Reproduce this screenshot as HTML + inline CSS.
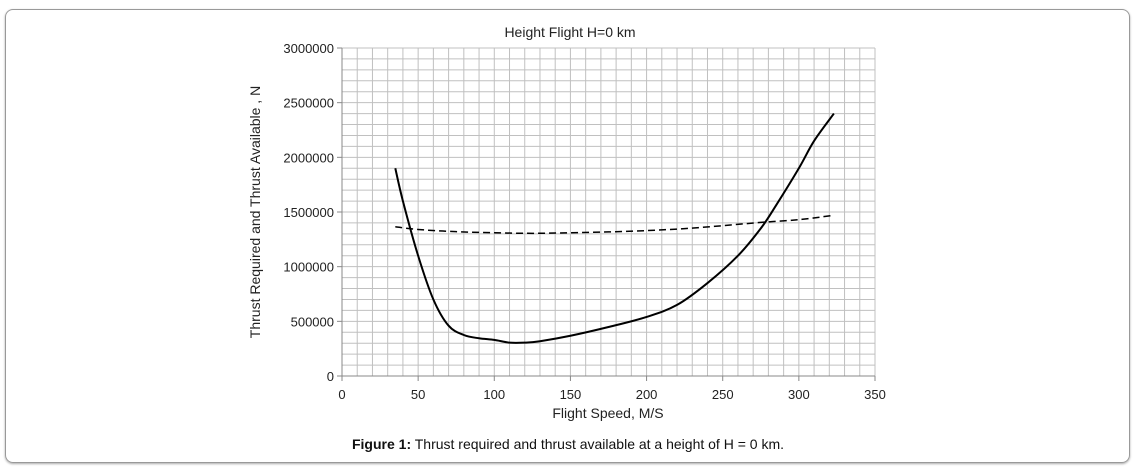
<!DOCTYPE html>
<html><head><meta charset="utf-8"><style>
body{margin:0;background:#fff;width:1136px;height:470px;overflow:hidden;font-family:"Liberation Sans",sans-serif}
#frame{position:absolute;left:5px;top:9px;width:1123px;height:452px;border:1px solid #999;border-radius:8px;box-shadow:0 1px 2px #aaa}
#cap{position:absolute;left:0;width:1136px;top:436px;text-align:center;font-size:14px;color:#111}
</style></head><body>
<div id="frame"></div>
<svg id="chart" width="1136" height="470" style="position:absolute;left:0;top:0"></svg>
<div id="cap"><b>Figure 1:</b> Thrust required and thrust available at a height of H = 0 km.</div>
<script>
const xTicks=[0,50,100,150,200,250,300,350];
const yTicks=[0,500000,1000000,1500000,2000000,2500000,3000000];
const reqX=[35,40,50,60,70,80,90,100,110,120,130,150,175,200,220,240,260,275,285,300,310,323];
const reqY=[1900000,1600000,1100000,700000,460000,375000,345000,330000,305000,305000,318000,368000,448000,540000,650000,850000,1100000,1350000,1560000,1900000,2150000,2400000];
const avX=[35,50,75,100,125,150,175,200,225,250,275,300,323];
const avY=[1365000,1340000,1320000,1310000,1305000,1310000,1318000,1330000,1348000,1375000,1405000,1430000,1470000];
const NS="http://www.w3.org/2000/svg";
const svg=document.getElementById('chart');
const X0=342,X1=875,Y0=376,Y1=48;
const sx=v=>X0+(v/350)*(X1-X0);
const sy=v=>Y0-(v/3000000)*(Y0-Y1);
function mk(t,a,txt){const e=document.createElementNS(NS,t);for(const k in a)e.setAttribute(k,a[k]);if(txt!==undefined)e.textContent=txt;svg.appendChild(e);return e;}
for(let v=10;v<=350;v+=10){const l=mk('line',{x1:sx(v),x2:sx(v),y1:Y1,y2:Y0,stroke:'#c0c0c0','stroke-width':1});

}
for(let v=100000;v<=3000000;v+=100000){const l=mk('line',{x1:X0,x2:X1,y1:sy(v),y2:sy(v),stroke:'#c0c0c0','stroke-width':1});

}
mk('line',{x1:X0,x2:X0,y1:Y1,y2:Y0,stroke:'#888'});
mk('line',{x1:X0,x2:X1,y1:Y0,y2:Y0,stroke:'#888'});
xTicks.forEach(v=>{mk('line',{x1:sx(v),x2:sx(v),y1:Y0,y2:Y0+5,stroke:'#888'});
const t=mk('text',{x:sx(v),y:Y0+23,'text-anchor':'middle','font-size':13,fill:'#222'},v);

});
yTicks.forEach(v=>{mk('line',{x1:X0-5,x2:X0,y1:sy(v),y2:sy(v),stroke:'#888'});
const t=mk('text',{x:X0-8,y:sy(v)+5,'text-anchor':'end','font-size':13,fill:'#222'},v);

});
function path(xs,ys){const p=xs.map((x,i)=>[sx(x),sy(ys[i])]);let d='M'+p[0];for(let i=0;i<p.length-1;i++){const a=p[Math.max(0,i-1)],b=p[i],c=p[i+1],e=p[Math.min(p.length-1,i+2)];
d+=' C'+(b[0]+(c[0]-a[0])/6)+','+(b[1]+(c[1]-a[1])/6)+' '+(c[0]-(e[0]-b[0])/6)+','+(c[1]-(e[1]-b[1])/6)+' '+c;}return d;}
const s1=mk('path',{d:path(reqX,reqY),fill:'none',stroke:'#000','stroke-width':2});


const s2=mk('path',{d:path(avX,avY),fill:'none',stroke:'#000','stroke-width':1.5,'stroke-dasharray':'7,4'});


const ti=mk('text',{x:570,y:37,'text-anchor':'middle','font-size':14,fill:'#222'},'Height Flight H=0 km');


const xt=mk('text',{x:608,y:418,'text-anchor':'middle','font-size':14,fill:'#222'},'Flight Speed, M/S');


const yt=mk('text',{x:0,y:0,'text-anchor':'middle','font-size':14,fill:'#222',transform:'translate(260,212) rotate(-90)'},'Thrust Required and Thrust Available , N');


</script>
</body></html>
